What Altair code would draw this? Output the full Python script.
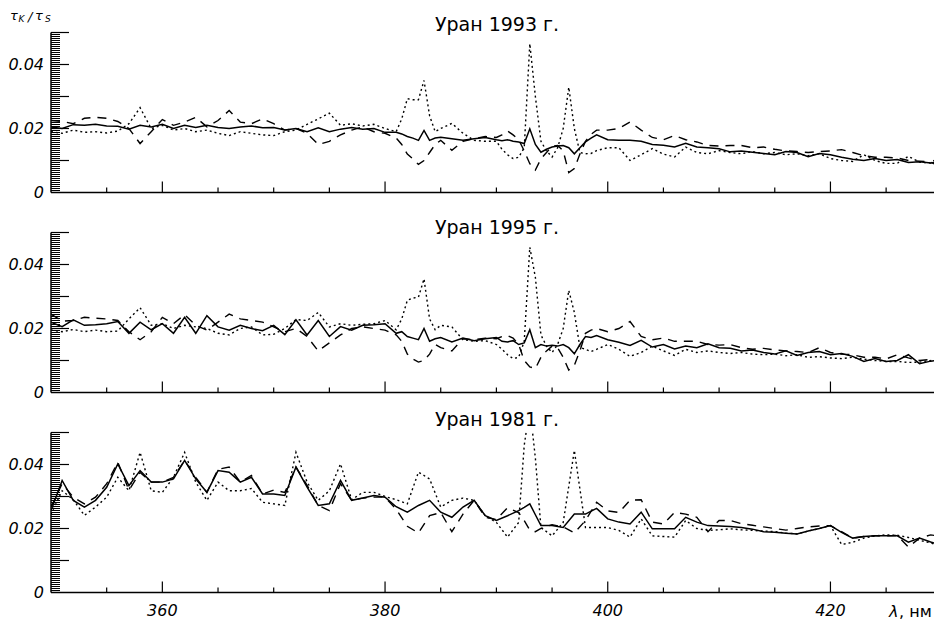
import altair as alt
import pandas as pd

# ---------------- data ----------------
LAM_A = [350, 351, 352, 353, 354, 355, 356, 357, 358, 359,
         360, 361, 362, 363, 364, 365, 366, 367, 368, 369,
         370, 371, 372, 373, 374, 375, 376, 377, 378, 379,
         380, 381, 381.5, 382, 382.5, 383, 383.5, 384, 384.5, 385,
         386, 387, 388, 389, 390, 390.5, 391, 391.5, 392, 392.5,
         393, 393.5, 394, 394.5, 395, 395.5, 396, 396.5, 397, 397.5,
         398, 398.5, 399, 400, 401, 402, 403, 404, 405, 406,
         407, 408, 409, 410, 411, 412, 413, 414, 415, 416,
         417, 418, 419, 420, 421, 422, 423, 424, 425, 426,
         427, 428, 429, 430]

SOLID_93 = [0.0205, 0.0200, 0.0212, 0.0210, 0.0213, 0.0208, 0.0207, 0.0198, 0.0210, 0.0205,
            0.0213, 0.0200, 0.0210, 0.0203, 0.0210, 0.0203, 0.0200, 0.0205, 0.0208, 0.0202,
            0.0203, 0.0195, 0.0200, 0.0190, 0.0202, 0.0190, 0.0198, 0.0203, 0.0198, 0.0200,
            0.0188, 0.0188, 0.0183, 0.0175, 0.0170, 0.0163, 0.0194, 0.0163, 0.0170, 0.0173,
            0.0168, 0.0163, 0.0168, 0.0172, 0.0165, 0.0162, 0.0165, 0.0160, 0.0158, 0.0153,
            0.0199, 0.0150, 0.0126, 0.0135, 0.0142, 0.0145, 0.0147, 0.0140, 0.0121, 0.0140,
            0.0158, 0.0170, 0.0180, 0.0165, 0.0163, 0.0163, 0.0160, 0.0150, 0.0148, 0.0142,
            0.0154, 0.0142, 0.0140, 0.0137, 0.0127, 0.0130, 0.0126, 0.0122, 0.0118, 0.0128,
            0.0125, 0.0112, 0.0122, 0.0118, 0.0110, 0.0104, 0.0100, 0.0106, 0.0100, 0.0103,
            0.0094, 0.0096, 0.0092, 0.0097]
DOTTED_93 = [0.0190, 0.0185, 0.0195, 0.0188, 0.0190, 0.0186, 0.0192, 0.0215, 0.0265, 0.0200,
             0.0210, 0.0195, 0.0200, 0.0190, 0.0195, 0.0185, 0.0178, 0.0190, 0.0185, 0.0180,
             0.0178, 0.0190, 0.0195, 0.0213, 0.0230, 0.0248, 0.0210, 0.0215, 0.0208, 0.0213,
             0.0200, 0.0190, 0.0230, 0.0293, 0.0290, 0.0290, 0.0350, 0.0240, 0.0190, 0.0200,
             0.0216, 0.0185, 0.0163, 0.0160, 0.0160, 0.0135, 0.0118, 0.0106, 0.0110, 0.0140,
             0.0465, 0.0300, 0.0160, 0.0130, 0.0111, 0.0140, 0.0200, 0.0329, 0.0200, 0.0125,
             0.0121, 0.0122, 0.0131, 0.0140, 0.0140, 0.0100, 0.0118, 0.0137, 0.0120, 0.0111,
             0.0142, 0.0125, 0.0121, 0.0131, 0.0125, 0.0121, 0.0128, 0.0121, 0.0125, 0.0118,
             0.0121, 0.0115, 0.0121, 0.0106, 0.0100, 0.0097, 0.0118, 0.0100, 0.0091, 0.0091,
             0.0113, 0.0095, 0.0092, 0.0118]
DASHED_93 = [0.0225, 0.0222, 0.0215, 0.0232, 0.0235, 0.0232, 0.0222, 0.0200, 0.0153, 0.0190,
             0.0228, 0.0210, 0.0220, 0.0235, 0.0205, 0.0225, 0.0256, 0.0220, 0.0215, 0.0230,
             0.0215, 0.0195, 0.0200, 0.0185, 0.0150, 0.0160, 0.0180, 0.0195, 0.0205, 0.0190,
             0.0185, 0.0170, 0.0150, 0.0120, 0.0105, 0.0088, 0.0100, 0.0125, 0.0150, 0.0163,
             0.0132, 0.0160, 0.0168, 0.0175, 0.0172, 0.0180, 0.0192, 0.0180, 0.0165, 0.0130,
             0.0090, 0.0070, 0.0105, 0.0125, 0.0145, 0.0147, 0.0130, 0.0062, 0.0075, 0.0120,
             0.0160, 0.0182, 0.0195, 0.0195, 0.0200, 0.0220, 0.0195, 0.0172, 0.0165, 0.0178,
             0.0165, 0.0158, 0.0147, 0.0145, 0.0147, 0.0147, 0.0140, 0.0142, 0.0135, 0.0130,
             0.0128, 0.0125, 0.0128, 0.0130, 0.0134, 0.0125, 0.0115, 0.0110, 0.0110, 0.0108,
             0.0100, 0.0098, 0.0095, 0.0077]

SOLID_95 = [0.0220, 0.0206, 0.0227, 0.0210, 0.0212, 0.0215, 0.0222, 0.0185, 0.0220, 0.0196,
            0.0215, 0.0185, 0.0235, 0.0185, 0.0240, 0.0205, 0.0195, 0.0210, 0.0200, 0.0193,
            0.0210, 0.0181, 0.0227, 0.0180, 0.0225, 0.0175, 0.0206, 0.0195, 0.0210, 0.0212,
            0.0215, 0.0185, 0.0190, 0.0175, 0.0170, 0.0165, 0.0200, 0.0160, 0.0168, 0.0172,
            0.0158, 0.0170, 0.0162, 0.0168, 0.0172, 0.0160, 0.0158, 0.0162, 0.0150, 0.0155,
            0.0196, 0.0140, 0.0150, 0.0145, 0.0148, 0.0145, 0.0150, 0.0140, 0.0121, 0.0150,
            0.0175, 0.0172, 0.0178, 0.0165, 0.0157, 0.0147, 0.0163, 0.0142, 0.0150, 0.0136,
            0.0145, 0.0140, 0.0152, 0.0140, 0.0138, 0.0130, 0.0133, 0.0125, 0.0120, 0.0130,
            0.0116, 0.0125, 0.0128, 0.0118, 0.0122, 0.0113, 0.0097, 0.0106, 0.0097, 0.0100,
            0.0118, 0.0090, 0.0098, 0.0103]
DOTTED_95 = [0.0195, 0.0190, 0.0197, 0.0190, 0.0195, 0.0190, 0.0192, 0.0230, 0.0265, 0.0210,
             0.0215, 0.0200, 0.0210, 0.0205, 0.0200, 0.0185, 0.0180, 0.0200, 0.0205, 0.0180,
             0.0182, 0.0200, 0.0228, 0.0225, 0.0250, 0.0205, 0.0215, 0.0210, 0.0213, 0.0215,
             0.0225, 0.0196, 0.0230, 0.0288, 0.0295, 0.0298, 0.0355, 0.0230, 0.0196, 0.0210,
             0.0205, 0.0165, 0.0160, 0.0162, 0.0150, 0.0135, 0.0118, 0.0106, 0.0110, 0.0160,
             0.0454, 0.0360, 0.0180, 0.0145, 0.0125, 0.0150, 0.0200, 0.0319, 0.0250, 0.0141,
             0.0135, 0.0128, 0.0135, 0.0150, 0.0135, 0.0113, 0.0125, 0.0145, 0.0130, 0.0116,
             0.0135, 0.0125, 0.0130, 0.0125, 0.0122, 0.0125, 0.0120, 0.0118, 0.0120, 0.0115,
             0.0118, 0.0110, 0.0112, 0.0108, 0.0106, 0.0110, 0.0104, 0.0100, 0.0097, 0.0097,
             0.0094, 0.0095, 0.0100, 0.0108]
DASHED_95 = [0.0245, 0.0223, 0.0225, 0.0235, 0.0232, 0.0230, 0.0225, 0.0190, 0.0165, 0.0190,
             0.0235, 0.0215, 0.0243, 0.0210, 0.0195, 0.0220, 0.0245, 0.0230, 0.0225, 0.0220,
             0.0205, 0.0190, 0.0200, 0.0175, 0.0130, 0.0155, 0.0180, 0.0200, 0.0205, 0.0200,
             0.0195, 0.0180, 0.0160, 0.0120, 0.0105, 0.0095, 0.0100, 0.0120, 0.0150, 0.0140,
             0.0130, 0.0168, 0.0165, 0.0170, 0.0168, 0.0175, 0.0178, 0.0170, 0.0150, 0.0100,
             0.0080, 0.0075, 0.0110, 0.0130, 0.0145, 0.0140, 0.0110, 0.0070, 0.0085, 0.0130,
             0.0185, 0.0195, 0.0200, 0.0190, 0.0200, 0.0222, 0.0175, 0.0165, 0.0170, 0.0160,
             0.0160, 0.0160, 0.0150, 0.0148, 0.0150, 0.0140, 0.0135, 0.0138, 0.0133, 0.0130,
             0.0128, 0.0125, 0.0140, 0.0125, 0.0120, 0.0118, 0.0110, 0.0110, 0.0105, 0.0118,
             0.0108, 0.0100, 0.0103, 0.0105]

LAM_B = [350, 351, 352, 353, 354, 355, 356, 357, 358, 359,
         360, 361, 362, 363, 364, 365, 366, 367, 368, 369,
         370, 371, 372, 373, 374, 375, 376, 377, 378, 379,
         380, 381, 382, 383, 384, 385, 386, 387, 388, 389,
         390, 391, 392, 392.5, 393, 393.5, 394, 395, 396, 397,
         398, 399, 400, 401, 402, 403, 404, 405, 406, 407,
         408, 409, 410, 411, 412, 413, 414, 415, 416, 417,
         418, 419, 420, 421, 422, 423, 424, 425, 426, 427,
         428, 429, 430]

SOLID_81 = [0.0256, 0.0350, 0.0288, 0.0267, 0.0288, 0.0329, 0.0402, 0.0334, 0.0381, 0.0345,
            0.0345, 0.0355, 0.0413, 0.0355, 0.0313, 0.0381, 0.0376, 0.0345, 0.0360, 0.0308,
            0.0308, 0.0303, 0.0392, 0.0329, 0.0272, 0.0277, 0.0350, 0.0288, 0.0295, 0.0303,
            0.0298, 0.0268, 0.0251, 0.0272, 0.0288, 0.0251, 0.0235, 0.0267, 0.0288, 0.0240,
            0.0225, 0.0240, 0.0256, 0.0266, 0.0277, 0.0243, 0.0209, 0.0209, 0.0203, 0.0245,
            0.0245, 0.0263, 0.0230, 0.0220, 0.0214, 0.0251, 0.0199, 0.0199, 0.0199, 0.0235,
            0.0220, 0.0209, 0.0208, 0.0206, 0.0203, 0.0198, 0.0190, 0.0188, 0.0185, 0.0183,
            0.0192, 0.0200, 0.0209, 0.0188, 0.0170, 0.0175, 0.0177, 0.0177, 0.0177, 0.0157,
            0.0170, 0.0158, 0.0147]
DOTTED_81 = [0.0245, 0.0318, 0.0290, 0.0241, 0.0267, 0.0298, 0.0360, 0.0318, 0.0438, 0.0318,
             0.0313, 0.0360, 0.0438, 0.0345, 0.0288, 0.0345, 0.0318, 0.0318, 0.0325, 0.0282,
             0.0277, 0.0272, 0.0438, 0.0345, 0.0288, 0.0318, 0.0402, 0.0290, 0.0313, 0.0313,
             0.0300, 0.0290, 0.0277, 0.0376, 0.0355, 0.0267, 0.0288, 0.0295, 0.0288, 0.0240,
             0.0219, 0.0173, 0.0219, 0.0460, 0.0580, 0.0420, 0.0203, 0.0177, 0.0219, 0.0444,
             0.0203, 0.0203, 0.0203, 0.0194, 0.0173, 0.0230, 0.0177, 0.0175, 0.0173, 0.0225,
             0.0200, 0.0194, 0.0196, 0.0199, 0.0196, 0.0194, 0.0192, 0.0190, 0.0186, 0.0183,
             0.0192, 0.0200, 0.0209, 0.0150, 0.0157, 0.0170, 0.0177, 0.0180, 0.0179, 0.0172,
             0.0163, 0.0155, 0.0142]
DASHED_81 = [0.0267, 0.0340, 0.0298, 0.0277, 0.0298, 0.0340, 0.0407, 0.0320, 0.0375, 0.0345,
             0.0345, 0.0360, 0.0413, 0.0360, 0.0313, 0.0385, 0.0392, 0.0345, 0.0366, 0.0308,
             0.0320, 0.0313, 0.0392, 0.0335, 0.0272, 0.0256, 0.0340, 0.0288, 0.0295, 0.0298,
             0.0298, 0.0260, 0.0207, 0.0186, 0.0240, 0.0250, 0.0190, 0.0245, 0.0288, 0.0235,
             0.0228, 0.0265, 0.0250, 0.0225, 0.0195, 0.0190, 0.0200, 0.0212, 0.0205, 0.0186,
             0.0225, 0.0282, 0.0255, 0.0250, 0.0288, 0.0290, 0.0220, 0.0214, 0.0250, 0.0245,
             0.0235, 0.0190, 0.0225, 0.0225, 0.0215, 0.0210, 0.0205, 0.0200, 0.0195, 0.0200,
             0.0205, 0.0208, 0.0209, 0.0190, 0.0170, 0.0175, 0.0177, 0.0177, 0.0178, 0.0142,
             0.0170, 0.0180, 0.0175]

TITLES = ["Уран 1993 г.", "Уран 1995 г.", "Уран 1981 г."]
X_LABELS = [360, 380, 400, 420]
X_MINOR = [355, 365, 370, 375, 385, 390, 395, 405, 410, 415, 425]
Y_LABELS = [0, 0.02, 0.04]
Y_MAJOR = [0.01, 0.02, 0.03, 0.04, 0.05]
Y_MINOR = [round(i * 0.000625, 6) for i in range(1, 80) if i % 16]
Y_TITLE_PARTS = ["τ", "K", "/", "τ", "S"]
X_TITLE_PARTS = ["λ", ", нм"]

# ---------------- styling ----------------
FONT = "DejaVu Sans"
# the page must stay within 926 px of svg width (8 px body margins), so the
# visible x range ends just short of 430 nm while keeping the reference scale
W, H = 883, 160
xs = alt.Scale(domain=[350, 429.3], nice=False, zero=False)
ys = alt.Scale(domain=[0, 0.05], nice=False, zero=False)


def text_layer(txt, x, y, size, style, align="left"):
    return alt.Chart(pd.DataFrame({"s": [txt]})).mark_text(
        font=FONT, fontSize=size, fontStyle=style, color="black",
        align=align, baseline="alphabetic"
    ).encode(x=alt.value(x), y=alt.value(y), text="s:N")


def panel(lam, solid, dashed, dotted, title, title_y, bottom, top):
    df = pd.DataFrame({"lam": lam, "solid": solid, "dashed": dashed, "dotted": dotted})
    base = alt.Chart(df)
    l_solid = base.mark_line(color="black", strokeWidth=1.5, clip=True).encode(
        x=alt.X("lam:Q", scale=xs, axis=None),
        y=alt.Y("solid:Q", scale=ys, axis=None))
    l_dashed = base.mark_line(color="black", strokeWidth=1.4, strokeDash=[9, 7], clip=True).encode(
        x=alt.X("lam:Q", scale=xs, axis=None),
        y=alt.Y("dashed:Q", scale=ys, axis=None))
    l_dotted = base.mark_line(color="black", strokeWidth=1.4, strokeDash=[2, 3], clip=True).encode(
        x=alt.X("lam:Q", scale=xs, axis=None),
        y=alt.Y("dotted:Q", scale=ys, axis=None))

    # axis lines (left and bottom)
    dom_df = pd.DataFrame({"k": [0]})
    y_dom = alt.Chart(dom_df).mark_rule(color="black", strokeWidth=1.5).encode(
        x=alt.value(0), y=alt.value(0), y2=alt.value(H))
    x_dom = alt.Chart(dom_df).mark_rule(color="black", strokeWidth=1.5).encode(
        x=alt.value(0), x2=alt.value(W), y=alt.value(H))

    # inward ticks
    tx_major = alt.Chart(pd.DataFrame({"t": X_LABELS})).mark_rule(color="black", strokeWidth=1.2).encode(
        x=alt.X("t:Q", scale=xs, axis=None), y=alt.value(H), y2=alt.value(H - 11))
    tx_minor = alt.Chart(pd.DataFrame({"t": X_MINOR})).mark_rule(color="black", strokeWidth=1.2).encode(
        x=alt.X("t:Q", scale=xs, axis=None), y=alt.value(H), y2=alt.value(H - 5))
    ty_major = alt.Chart(pd.DataFrame({"t": Y_MAJOR})).mark_rule(color="black", strokeWidth=1.2).encode(
        y=alt.Y("t:Q", scale=ys, axis=None), x=alt.value(0), x2=alt.value(18))
    ty_minor = alt.Chart(pd.DataFrame({"t": Y_MINOR})).mark_rule(color="black", strokeWidth=1).encode(
        y=alt.Y("t:Q", scale=ys, axis=None), x=alt.value(0), x2=alt.value(9))

    # y tick labels
    y_lab = alt.Chart(pd.DataFrame({"t": Y_LABELS})).mark_text(
        font=FONT, fontSize=16, fontStyle="italic", color="black",
        align="right", baseline="middle"
    ).encode(y=alt.Y("t:Q", scale=ys, axis=None), x=alt.value(-7),
             text=alt.Text("t:Q", format="~g"))

    ttl = text_layer(title, 446, title_y, 19, "normal", align="center")

    layers = [l_solid, l_dashed, l_dotted, y_dom, x_dom,
              tx_major, tx_minor, ty_major, ty_minor, y_lab, ttl]
    if top:
        layers += [
            text_layer(Y_TITLE_PARTS[0], -41, -13, 13, "italic"),
            text_layer(Y_TITLE_PARTS[1], -32.5, -11, 9, "italic"),
            text_layer(Y_TITLE_PARTS[2], -23, -12, 13, "italic"),
            text_layer(Y_TITLE_PARTS[3], -16, -13, 13, "italic"),
            text_layer(Y_TITLE_PARTS[4], -6, -10.5, 9, "italic"),
        ]
    if bottom:
        x_lab = alt.Chart(pd.DataFrame({"t": X_LABELS})).mark_text(
            font=FONT, fontSize=16, fontStyle="italic", color="black",
            align="center", baseline="alphabetic"
        ).encode(x=alt.X("t:Q", scale=xs, axis=None), y=alt.value(H + 23),
                 text=alt.Text("t:Q", format="d"))
        layers += [
            x_lab,
            text_layer(X_TITLE_PARTS[0], 838, H + 24, 16, "italic"),
            text_layer(X_TITLE_PARTS[1], 848, H + 24, 16, "normal"),
        ]
    return alt.layer(*layers).properties(width=W, height=H)


p1 = panel(LAM_A, SOLID_93, DASHED_93, DOTTED_93, TITLES[0], -2, False, True)
p2 = panel(LAM_A, SOLID_95, DASHED_95, DOTTED_95, TITLES[1], 1, False, False)
p3 = panel(LAM_B, SOLID_81, DASHED_81, DOTTED_81, TITLES[2], -7, True, False)

# with autosize "none" the svg is: width = 43 + layout width, height = top + bottom padding
chart = alt.vconcat(p1, p2, p3, spacing=40, bounds="flush").properties(
    autosize=alt.AutoSizeParams(type="none"),
    padding={"left": 43, "top": 24.5, "right": 0, "bottom": 587.5},
    background="white"
).configure_view(stroke=None)

chart.save("out.html", embed_options={"renderer": "svg", "actions": False})
